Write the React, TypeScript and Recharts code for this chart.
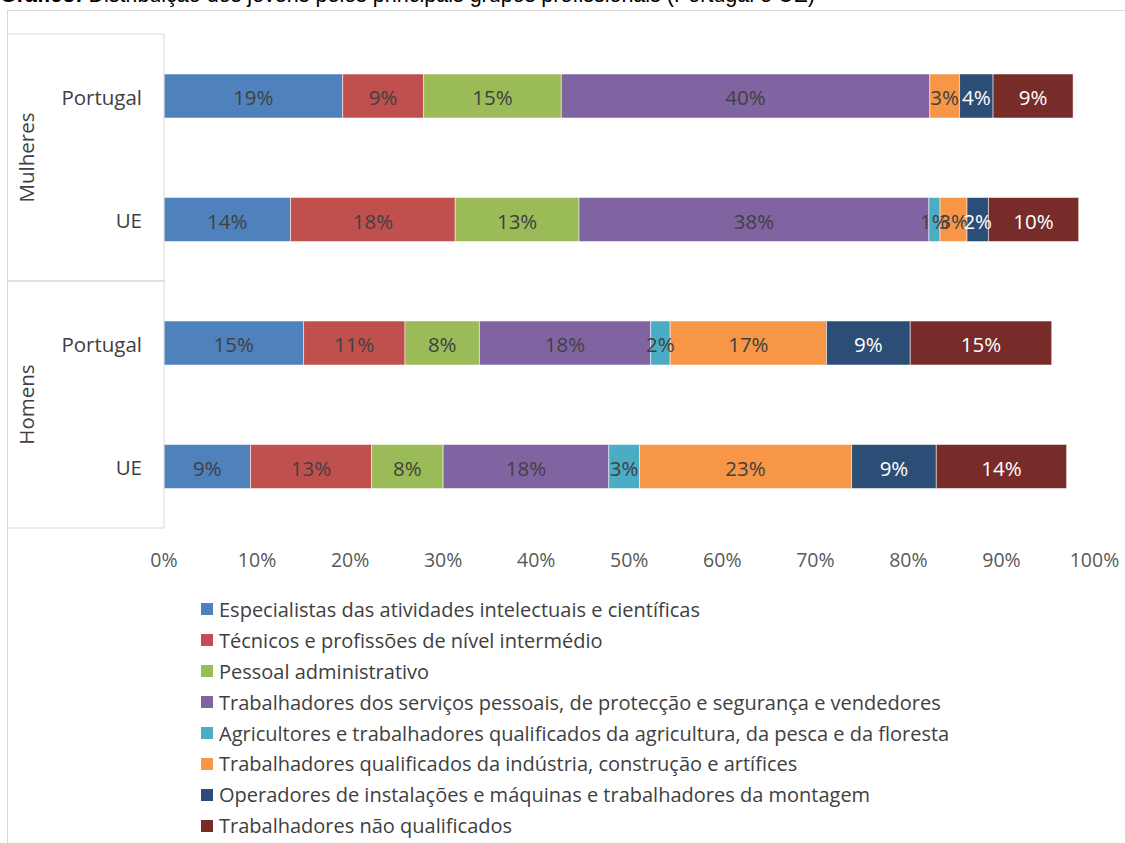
import React from "react";
import { BarChart, Bar, XAxis, YAxis, LabelList } from "recharts";

// categories (two-level axis: group / region)
const groups = ["Mulheres", "Mulheres", "Homens", "Homens"];
const regions = ["Portugal", "UE", "Portugal", "UE"];

// share of young workers per occupational group (%)
const especialistas = [19.2, 13.6, 15.0, 9.3];
const tecnicos = [8.7, 17.7, 10.9, 13.0];
const administrativo = [14.8, 13.3, 8.0, 7.7];
const servicos = [39.6, 37.6, 18.4, 17.8];
const agricultores = [0, 1.2, 2.1, 3.3];
const industria = [3.2, 2.9, 16.8, 22.8];
const operadores = [3.6, 2.3, 9.0, 9.1];
const naoQualificados = [8.6, 9.7, 15.2, 14.0];

const seriesNames = [
  "Especialistas das atividades intelectuais e científicas",
  "Técnicos e profissões de nível intermédio",
  "Pessoal administrativo",
  "Trabalhadores dos serviços pessoais, de protecção e segurança e vendedores",
  "Agricultores e trabalhadores qualificados da agricultura, da pesca e da floresta",
  "Trabalhadores qualificados da indústria, construção e artífices",
  "Operadores de instalações e máquinas e trabalhadores da montagem",
  "Trabalhadores não qualificados",
];
const seriesValues = [
  especialistas,
  tecnicos,
  administrativo,
  servicos,
  agricultores,
  industria,
  operadores,
  naoQualificados,
];
const seriesColors = [
  "#4F81BD",
  "#C0504D",
  "#9BBB59",
  "#8064A2",
  "#4BACC6",
  "#F79646",
  "#2C4D75",
  "#772C2A",
];
const labelColors = [
  "#404040",
  "#404040",
  "#404040",
  "#404040",
  "#404040",
  "#404040",
  "#FFFFFF",
  "#FFFFFF",
];
const xTicks = [0, 10, 20, 30, 40, 50, 60, 70, 80, 90, 100];

const title = "Distribuição dos jovens pelos principais grupos profissionais (Portugal e UE)";

const FONT = "'Open Sans', 'Noto Sans', sans-serif";
const FRAME = "#D9D9D9";
const W = 1125;
const H = 843;
const AXIS_X = 164;
const PLOT_TOP = 34;
const PLOT_BOTTOM = 528;
const band = (PLOT_BOTTOM - PLOT_TOP) / regions.length;

const data = regions.map((region, i) => {
  const row: Record<string, string | number> = {
    key: `${groups[i]}-${region}`,
    group: groups[i],
    region,
  };
  seriesValues.forEach((vals, s) => {
    row[`s${s}`] = vals[i];
  });
  return row;
});

// inner labels + group labels + box lines of the category axis
const CategoryTick = (props: any) => {
  const { y, index } = props;
  const i = index as number;
  const g = groups[i];
  const first = i === 0 || groups[i - 1] !== g;
  const last = i === groups.length - 1 || groups[i + 1] !== g;
  const size = groups.filter((x) => x === g).length;
  const mid = y + ((size - 1) * band) / 2;
  return (
    <g>
      <text
        x={142}
        y={y + 1}
        textAnchor="end"
        dominantBaseline="central"
        fontSize={20.5}
        fill="#404040"
        fontFamily={FONT}
      >
        {regions[i]}
      </text>
      {first && (
        <line x1={7} x2={AXIS_X} y1={y - band / 2} y2={y - band / 2} stroke={FRAME} />
      )}
      {last && (
        <line x1={7} x2={AXIS_X} y1={y + band / 2} y2={y + band / 2} stroke={FRAME} />
      )}
      {first && (
        <text
          x={26}
          y={mid}
          transform={`rotate(-90, 26, ${mid})`}
          textAnchor="middle"
          dominantBaseline="central"
          fontSize={20.5}
          fill="#404040"
          fontFamily={FONT}
        >
          {g}
        </text>
      )}
    </g>
  );
};

const makeLabel = (color: string) => (props: any) => {
  const { x, y, width, height, value } = props;
  if (!value) return null;
  return (
    <text
      x={x + width / 2}
      y={y + height / 2 + 1}
      textAnchor="middle"
      dominantBaseline="central"
      fontSize={20.5}
      fill={color}
      fontFamily={FONT}
    >
      {`${Math.round(value)}%`}
    </text>
  );
};

const App: React.FC = () => {
  return (
    <div
      style={{
        position: "absolute",
        left: 0,
        top: 0,
        width: W,
        height: H,
        overflow: "hidden",
        background: "#fff",
        fontFamily: FONT,
      }}
    >
      {/* title, cut off by the page top */}
      <svg width={W} height={20} style={{ position: "absolute", left: 0, top: 0 }}>
        <text
          x={0}
          y={2}
          fontSize={21.5}
          fill="#000"
          fontFamily="'Liberation Sans Narrow', 'Liberation Sans', sans-serif"
        >
          <tspan fontWeight="bold">Gráfico:</tspan> {title}
        </text>
      </svg>
      {/* chart frame */}
      <div
        style={{
          position: "absolute",
          left: 7,
          top: 10,
          width: W,
          height: H,
          borderTop: `1px solid ${FRAME}`,
          borderLeft: `1px solid ${FRAME}`,
        }}
      />
      <div style={{ position: "absolute", left: 0, top: 0 }}>
        <BarChart
          width={W}
          height={H}
          data={data}
          layout="vertical"
          margin={{ top: PLOT_TOP, right: 30.5, left: 0, bottom: H - PLOT_BOTTOM - 30 }}
          barSize={44}
        >
          <XAxis
            type="number"
            domain={[0, 100]}
            ticks={xTicks}
            tickFormatter={(v) => `${v}%`}
            axisLine={false}
            tickLine={false}
            tickMargin={19}
            height={30}
            tick={{ fontSize: 19.5, fill: "#595959", fontFamily: FONT }}
            interval={0}
          />
          <YAxis
            type="category"
            dataKey="key"
            width={AXIS_X}
            axisLine={{ stroke: FRAME }}
            tickLine={false}
            tick={<CategoryTick />}
            interval={0}
          />
          {seriesNames.map((name, s) => (
            <Bar
              key={name}
              dataKey={`s${s}`}
              name={name}
              stackId="a"
              fill={seriesColors[s]}
              stroke="#FFFFFF"
              strokeOpacity={0.5}
              strokeWidth={1}
              isAnimationActive={false}
            >
              <LabelList dataKey={`s${s}`} content={makeLabel(labelColors[s])} />
            </Bar>
          ))}
        </BarChart>
      </div>
      {/* legend */}
      <div style={{ position: "absolute", left: 201, top: 594 }}>
        {seriesNames.map((name, s) => (
          <div
            key={name}
            style={{ display: "flex", alignItems: "center", height: 30.9, whiteSpace: "nowrap" }}
          >
            <span
              style={{
                display: "inline-block",
                width: 12,
                height: 12,
                background: seriesColors[s],
                marginRight: 6,
              }}
            />
            <span style={{ fontSize: 20, color: "#404040" }}>{name}</span>
          </div>
        ))}
      </div>
    </div>
  );
};

export default App;
